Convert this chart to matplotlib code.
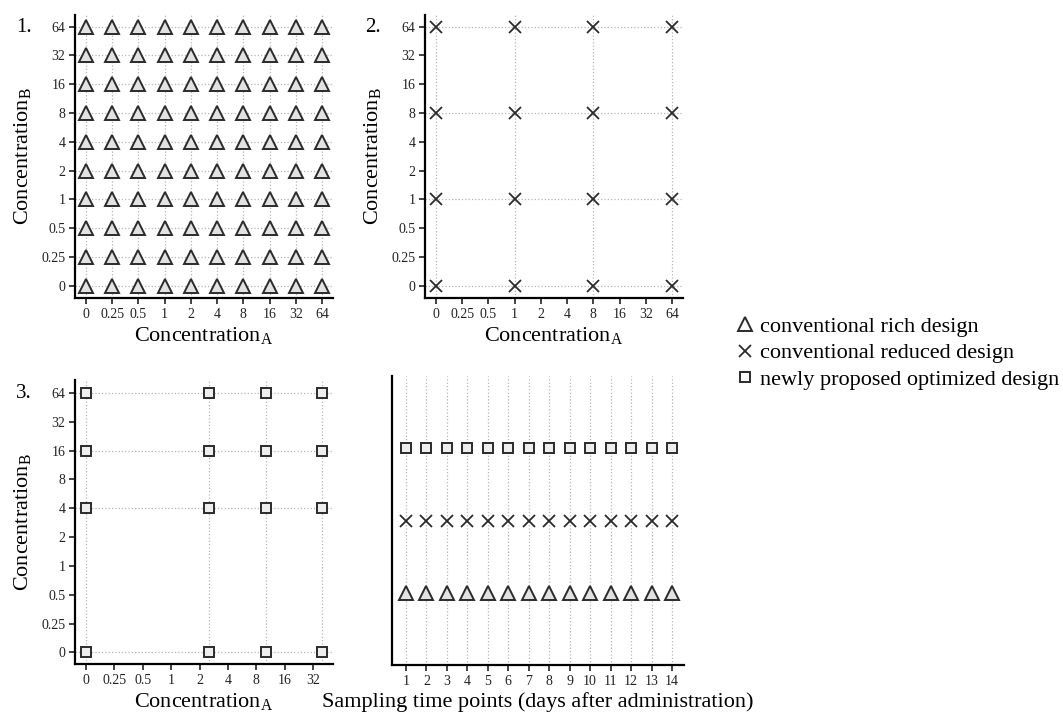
import itertools

import numpy as np
import matplotlib
matplotlib.use('Agg')
import matplotlib.pyplot as plt
from matplotlib.lines import Line2D

plt.rcParams['font.family'] = ['Liberation Serif', 'DejaVu Serif']
plt.rcParams['mathtext.fontset'] = 'custom'
plt.rcParams['mathtext.rm'] = 'Liberation Serif'

# concentration levels (both axes use the same categorical log2 scale)
conc_labels = ['0', '0.25', '0.5', '1', '2', '4', '8', '16', '32', '64']
conc_values = [0, 0.25, 0.5, 1, 2, 4, 8, 16, 32, 64]

# design 2: conventional reduced
reduced_a = [0, 1, 8, 64]
reduced_b = [0, 1, 8, 64]

# design 3: newly proposed optimized
optimized_a = [0, 2.5, 10, 40]
optimized_b = [0, 4, 16, 64]

# sampling time points
days = [1, 2, 3, 4, 5, 6, 7, 8, 9, 10, 11, 12, 13, 14]
design_names = ['conventional rich design', 'conventional reduced design',
                'newly proposed optimized design']
design_rows = [1, 2, 3]

EDGE = '#2b2b2b'
GRID = '#b5b5b5'
mk_tri = dict(marker='^', ms=9.5, mfc='#e2e2e2', mec=EDGE, mew=1.4, ls='none')
mk_x = dict(marker='x', ms=8, mec=EDGE, mew=1.3, ls='none')
mk_sq = dict(marker='s', ms=7, mfc='#eeeeee', mec=EDGE, mew=1.4, ls='none')


def to_pos(v):
    return 0.0 if v == 0 else float(np.log2(v) + 3)


def style_axes(ax):
    for s in ['top', 'right']:
        ax.spines[s].set_visible(False)
    for s in ['left', 'bottom']:
        ax.spines[s].set_linewidth(1.6)
    ax.tick_params(length=4, width=1.2, labelsize=10, pad=3, colors='#222222')


def grid(ax, xs=(), ys=()):
    for x in xs:
        ax.axvline(x, color=GRID, ls=':', lw=0.9, zorder=0)
    for y in ys:
        ax.axhline(y, color=GRID, ls=':', lw=0.9, zorder=0)


def conc_axes(ax, n_x):
    style_axes(ax)
    ax.set_xticks(range(n_x))
    ax.set_xticklabels(conc_labels[:n_x])
    ax.set_yticks(range(len(conc_labels)))
    ax.set_yticklabels(conc_labels)
    ax.set_xlabel(r'Concentration$_\mathregular{A}$', fontsize=16, labelpad=3)
    ax.set_ylabel(r'Concentration$_\mathregular{B}$', fontsize=16, labelpad=5)


fig = plt.figure(figsize=(10.63, 7.13), dpi=100)

# 1. rich design
ax1 = fig.add_axes([0.0706, 0.582, 0.2427, 0.397])
pos = [to_pos(v) for v in conc_values]
grid(ax1, pos, pos)
pts = list(itertools.product(conc_values, conc_values))
ax1.plot([to_pos(a) for a, b in pts], [to_pos(b) for a, b in pts], **mk_tri)
ax1.set_xlim(-0.42, 9.42)
ax1.set_ylim(-0.43, 9.405)
conc_axes(ax1, 10)

# 2. reduced design
ax2 = fig.add_axes([0.3998, 0.582, 0.2427, 0.397])
grid(ax2, [to_pos(v) for v in reduced_a], [to_pos(v) for v in reduced_b])
pts = list(itertools.product(reduced_a, reduced_b))
ax2.plot([to_pos(a) for a, b in pts], [to_pos(b) for a, b in pts], **mk_x)
ax2.set_xlim(-0.42, 9.42)
ax2.set_ylim(-0.43, 9.405)
conc_axes(ax2, 10)

# 3. optimized design
ax3 = fig.add_axes([0.0706, 0.0687, 0.2427, 0.398])
grid(ax3, [to_pos(v) for v in optimized_a], [to_pos(v) for v in optimized_b])
pts = list(itertools.product(optimized_a, optimized_b))
ax3.plot([to_pos(a) for a, b in pts], [to_pos(b) for a, b in pts], **mk_sq)
ax3.set_xlim(-0.39, 8.70)
ax3.set_ylim(-0.40, 9.44)
conc_axes(ax3, 9)

# 4. sampling time points
ax4 = fig.add_axes([0.3688, 0.0673, 0.2747, 0.405])
style_axes(ax4)
grid(ax4, days, [])
for row, mk in zip(design_rows, [mk_tri, mk_x, mk_sq]):
    ax4.plot(days, [row] * len(days), **mk)
ax4.set_xlim(0.32, 14.59)
ax4.set_ylim(0, 4)
ax4.set_xticks(days)
ax4.set_yticks([])
ax4.set_xlabel('Sampling time points (days after administration)', fontsize=16, labelpad=3)

for x, y, t in [(24, 27, '1.'), (373, 27, '2.'), (24, 393, '3.')]:
    fig.text(x / 1063, 1 - y / 713, t, fontsize=15, ha='center', va='center')

handles = [Line2D([], [], **mk_tri), Line2D([], [], **mk_x), Line2D([], [], **mk_sq)]
handles[0].set_markerfacecolor('white')
handles[2].set_markerfacecolor('white')
fig.legend(handles, design_names, loc='upper left',
           bbox_to_anchor=(736 / 1063, 1 - 316 / 713), frameon=False, fontsize=16,
           handlelength=0.8, handletextpad=0.3, labelspacing=0.28,
           borderpad=0, borderaxespad=0)

fig.savefig('out.png', dpi=100)
